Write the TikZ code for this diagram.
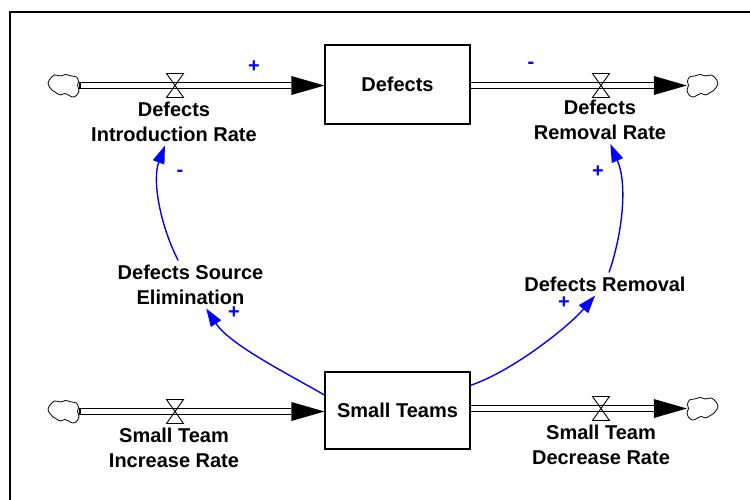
\documentclass[tikz,border=0pt]{standalone}
\usepackage{fontspec}
\setmainfont{Liberation Sans}
\usetikzlibrary{arrows.meta}
\definecolor{linkblue}{RGB}{0,0,255}
\newcommand\lblfont{\fontsize{20}{25}\selectfont\bfseries}
% pipe of a flow: black outer band with a filled head, white core
\newcommand\flowpipe[3]{%
  \draw[line width=7pt, -{Triangle[length=33pt,width=19pt,line width=0pt]}] (#1) -- (#2);
  \draw[white, line width=4.4pt, shorten <=#3, shorten >=33pt] (#1) -- (#2);}
\begin{document}
\begin{tikzpicture}[x=1pt,y=-1pt,
  stock/.style={draw, fill=white, line width=1.2pt, minimum width=145pt, font=\lblfont},
  lbl/.style={align=center, inner sep=4pt, font=\lblfont},
  sign/.style={text=linkblue, font=\lblfont, inner sep=0pt},
  link/.style={draw=linkblue, line width=1.4pt, -{Triangle[length=18pt,width=12pt]}},
  sourcebox/.style={minimum width=31pt, minimum height=24pt, inner sep=0pt},
  valve/.pic={\draw[line width=0.9pt] (-8.5,-12) -- (8.5,-12) -- (-8.5,12) -- (8.5,12) -- cycle;},
  cloudblob/.pic={\draw[line width=0.8pt] plot[smooth cycle, tension=0.6] coordinates {
      (-14,-6) (-9,-10.5) (-3,-9.5) (2,-11) (8,-9.5) (13,-8.5) (15,-4) (14,0)
      (15.5,5) (13,10) (9,11.5) (5,9.5) (1,8) (-3,9.5) (-7,7.5) (-11,5)
      (-14,1.5) (-15.5,-2.5)};}]
\useasboundingbox (0,0) rectangle (750,500);

% frame
\draw[line width=2.2pt] (10,502) -- (10,12) -- (752,12);

% sources and sinks
\node[sourcebox] (c1) at (63.5,85.5) {};
\node[sourcebox] (c2) at (702.5,85.5) {};
\node[sourcebox] (c3) at (63.5,411.5) {};
\node[sourcebox] (c4) at (702.5,408.5) {};

% stocks
\node[stock, minimum height=79pt] (defects) at (397.5,84.5) {Defects};
\node[stock, minimum height=77pt] (st) at (397.5,410.5) {Small Teams};

% flows
\flowpipe{c1}{c1 -| defects.west}{1.3pt}
\flowpipe{defects.east |- c2}{c2}{0pt}
\flowpipe{c3}{c3 -| st.west}{1.3pt}
\flowpipe{st.east |- c4}{c4}{0pt}

% redraw stocks over the pipe ends
\node[stock, minimum height=79pt] at (defects) {Defects};
\node[stock, minimum height=77pt] at (st) {Small Teams};

\pic at (c1) {cloudblob};
\pic[xscale=-1] at (c2) {cloudblob};
\pic at (c3) {cloudblob};
\pic[xscale=-1] at (c4) {cloudblob};

\coordinate (v1) at (175,85.5);
\coordinate (v2) at (601,85.5);
\coordinate (v3) at (175,411.5);
\coordinate (v4) at (601,408.5);
\pic at (v1) {valve};
\pic at (v2) {valve};
\pic at (v3) {valve};
\pic at (v4) {valve};

% flow and auxiliary labels
\node[lbl] (dir) at (174,121.5) {Defects\\Introduction Rate};
\node[lbl] (drr) at (600,120) {Defects\\Removal Rate};
\node[lbl] (dse) at (190.5,284.5) {Defects Source\\Elimination};
\node[lbl] (drem) at (605,284) {Defects Removal};
\node[lbl] (stir) at (174,447.5) {Small Team\\Increase Rate};
\node[lbl] (stdr) at (601,444.5) {Small Team\\Decrease Rate};

% causal links
\draw[link] (dse) .. controls (160,225) and (152,180) .. (dir);
\draw[link] ([yshift=15.5pt]st.west) .. controls (290,375) and (230,345) .. (dse);
\draw[link] (st) .. controls (515,370) and (570,325) .. (drem);
\draw[link] (drem) .. controls (622,235) and (628,185) .. (drr);

% polarities
\node[sign] (s1) at (254,67) {+};
\node[sign] (s2) at (531,65.3) {-};
\node[sign] (s3) at (180,173.3) {-};
\node[sign] (s4) at (598,172) {+};
\node[sign] (s5) at (234,313) {+};
\node[sign] (s6) at (564,303) {+};
\end{tikzpicture}
\end{document}
